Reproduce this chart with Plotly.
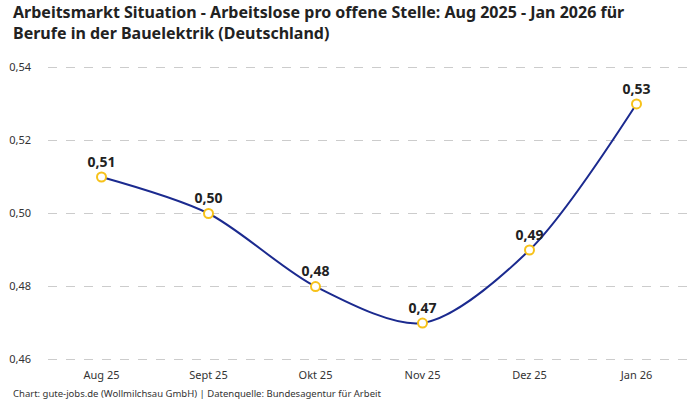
import plotly.graph_objects as go

# Data
months = ["Aug 25", "Sept 25", "Okt 25", "Nov 25", "Dez 25", "Jan 26"]
ratio = [0.51, 0.50, 0.48, 0.47, 0.49, 0.53]
y_ticks = [0.46, 0.48, 0.50, 0.52, 0.54]

FONT = "Noto Sans"
TITLE = ("Arbeitsmarkt Situation - Arbeitslose pro offene Stelle: Aug 2025 - Jan 2026 für"
         "<br>Berufe in der Bauelektrik (Deutschland)")
SOURCE = "Chart: gute-jobs.de (Wollmilchsau GmbH) | Datenquelle: Bundesagentur für Arbeit"

fig = go.Figure()
fig.add_trace(go.Scatter(
    x=months,
    y=ratio,
    mode="lines+markers+text",
    line=dict(color="#1b2a8f", width=2, shape="spline", smoothing=0.85),
    marker=dict(size=9, color="white", line=dict(color="#f7c21a", width=2)),
    text=ratio,
    texttemplate="%{y:.2f}",
    textposition="top center",
    textfont=dict(family=FONT, size=14, color="#222222", weight="bold"),
    hoverinfo="skip",
    cliponaxis=False,
))

fig.update_layout(
    width=700,
    height=400,
    separators=",.",
    paper_bgcolor="white",
    plot_bgcolor="white",
    showlegend=False,
    margin=dict(l=48, r=10, t=66, b=39),
    font=dict(family=FONT, color="#333333"),
    xaxis=dict(
        type="category",
        range=[-0.5, 5.5],
        showgrid=False,
        showline=False,
        zeroline=False,
        ticks="",
        ticklabelstandoff=6,
        tickfont=dict(family=FONT, size=11, color="#333333"),
    ),
    yaxis=dict(
        range=[0.4596, 0.5404],
        tickvals=y_ticks,
        tickformat=".2f",
        showgrid=True,
        gridcolor="#cccccc",
        griddash="dash",
        gridwidth=1,
        zeroline=False,
        showline=False,
        ticks="",
        ticklabelstandoff=16,
        tickfont=dict(family=FONT, size=11, color="#333333"),
    ),
)

# title as an annotation so both lines stay inside the page
fig.add_annotation(
    text=TITLE,
    xref="paper", yref="paper",
    x=-0.058, y=1.228,
    xanchor="left", yanchor="top", align="left",
    showarrow=False,
    font=dict(family=FONT, size=16, color="#222222", weight="bold"),
)

fig.add_annotation(
    text=SOURCE,
    xref="paper", yref="paper",
    x=-0.058, y=-0.08,
    xanchor="left", yanchor="top",
    showarrow=False,
    font=dict(family=FONT, size=9.5, color="#333333"),
)

# drop the browser's default page margin so the chart sits at the top-left corner
fig.write_html("out.html", config={"displayModeBar": False},
               post_script="document.body.style.margin='0';")
